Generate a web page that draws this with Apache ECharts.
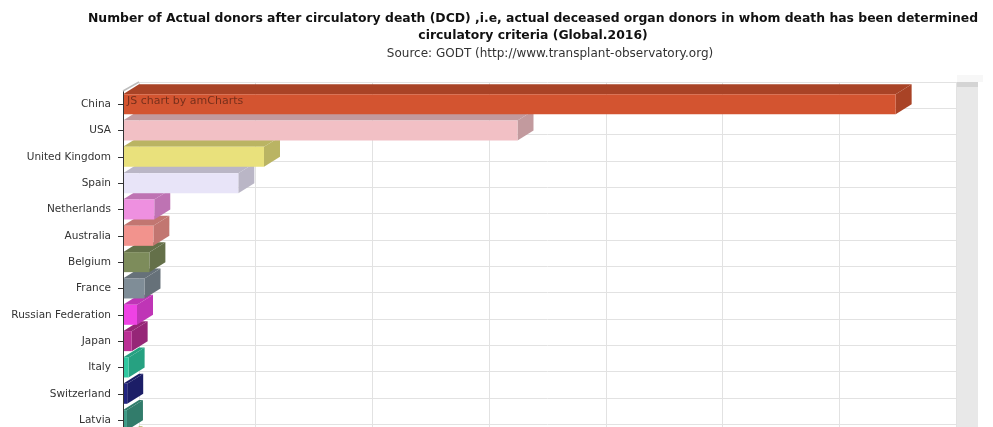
<!DOCTYPE html>
<html>
<head>
<meta charset="utf-8">
<script src="https://cdn.jsdelivr.net/npm/echarts@6/dist/echarts.min.js"></script>
<style>
html,body{margin:0;padding:0;background:#fff;overflow:hidden;width:993px;height:427px;}
#chart{width:993px;height:480px;}
</style>
</head>
<body>
<div id="chart"></div>
<script>
const categories = ["China","USA","United Kingdom","Spain","Netherlands","Australia","Belgium","France","Russian Federation","Japan","Italy","Switzerland","Latvia","Czech Republic"];
const values = [3310, 1690, 604, 494, 134, 130, 113, 92, 60, 37, 24, 18, 17, 15];
const barColors = ["#d35430","#f2c0c5","#e9e17c","#e8e4f8","#ee90e0","#f2938d","#7d8c5b","#7f8d97","#ef42e4","#bb2f95","#30c9a1","#232581","#3e9b86","#b5b51f"];
const xTicks = [0, 3500, 500];
const titleLines = ["Number of Actual donors after circulatory death (DCD) ,i.e, actual deceased organ donors in whom death has been determined", "circulatory criteria (Global.2016)"];
const subtitle = "Source: GODT (http://www.transplant-observatory.org)";

const DX = 16, DY = -10;
const PITCH = 26.33;
const N = categories.length;

function shade(hex, f){
  const n = parseInt(hex.slice(1),16);
  const r = Math.round(((n>>16)&255)*f), g = Math.round(((n>>8)&255)*f), b = Math.round((n&255)*f);
  return 'rgb('+r+','+g+','+b+')';
}

const chart = echarts.init(document.getElementById('chart'), null, {renderer:'canvas'});
const gridH = N * PITCH;
const option = {
  animation:false,
  backgroundColor:'#fff',
  grid:[
    {left:123, top:91, width:817, height:gridH, containLabel:false},
    {left:123+DX, top:91+DY+1, width:817, height:gridH, containLabel:false}
  ],
  xAxis:[
    {gridIndex:0, type:'value', min:xTicks[0], max:xTicks[1], interval:xTicks[2],
     axisLine:{show:false}, axisTick:{show:false}, axisLabel:{show:false}, splitLine:{show:false}},
    {gridIndex:1, type:'value', min:xTicks[0], max:xTicks[1], interval:xTicks[2],
     axisLine:{show:false}, axisTick:{show:false}, axisLabel:{show:false},
     splitLine:{show:true, lineStyle:{color:'#e2e2e2', width:1}}}
  ],
  yAxis:[
    {gridIndex:0, type:'category', data:categories, inverse:true,
     axisLine:{show:true, lineStyle:{color:'#333', width:1}},
     axisTick:{show:true, alignWithLabel:true, length:5, lineStyle:{color:'#333'}},
     axisLabel:{show:true, color:'#333', fontSize:10.5, fontFamily:'"DejaVu Sans", Verdana, sans-serif', margin:12},
     splitLine:{show:false}, z:5},
    {gridIndex:1, type:'category', data:categories, inverse:true,
     axisLine:{show:false}, axisTick:{show:false}, axisLabel:{show:false},
     splitLine:{show:true, lineStyle:{color:'#e2e2e2', width:1}}}
  ],
  series:[{
    type:'custom',
    xAxisIndex:0, yAxisIndex:0,
    data: values.map((v,i)=>[v, i]),
    encode:{x:0, y:1},
    renderItem:function(params, api){
      const i = params.dataIndex;
      const val = api.value(0);
      const cat = api.value(1);
      const p0 = api.coord([0, cat]);
      const p1 = api.coord([val, cat]);
      const band = api.size([0,1])[1];
      const h = band * 0.76;
      const x0 = p0[0], x1 = p1[0];
      const y0 = p0[1] - h/2, y1 = p0[1] + h/2;
      const c = barColors[i];
      const d = shade(c, 0.8);
      const zb = (N - i) * 3;
      return {type:'group', children:[
        {type:'polygon', z2:zb, shape:{points:[[x0,y0],[x0+DX,y0+DY],[x1+DX,y0+DY],[x1,y0]]}, style:{fill:d}},
        {type:'polygon', z2:zb, shape:{points:[[x1,y0],[x1+DX,y0+DY],[x1+DX,y1+DY],[x1,y1]]}, style:{fill:d}},
        {type:'rect', z2:zb+1, shape:{x:x0, y:y0, width:x1-x0, height:h}, style:{fill:c}}
      ]};
    },
    z:3
  }],
  graphic:[
    {type:'text', x:533, y:19, z:100, style:{text:titleLines[0], font:'bold 12.4px "DejaVu Sans", Verdana, sans-serif', fill:'#111', align:'center', verticalAlign:'middle', textAlign:'center', textVerticalAlign:'middle'}},
    {type:'text', x:533, y:36, z:100, style:{text:titleLines[1], font:'bold 12.4px "DejaVu Sans", Verdana, sans-serif', fill:'#111', align:'center', verticalAlign:'middle', textAlign:'center', textVerticalAlign:'middle'}},
    {type:'text', x:550, y:54, z:100, style:{text:subtitle, font:'12px "DejaVu Sans", Verdana, sans-serif', fill:'#333', align:'center', verticalAlign:'middle', textAlign:'center', textVerticalAlign:'middle'}},
    {type:'line', z:50, shape:{x1:123, y1:91, x2:123+DX, y2:91+DY+1}, style:{stroke:'#bdbdbd', lineWidth:1.5}},
    {type:'rect', z:50, shape:{x:957, y:75, width:26, height:7}, style:{fill:'#f7f7f7'}},
    {type:'rect', z:50, shape:{x:957, y:82, width:21, height:400}, style:{fill:'#e8e8e8'}},
    {type:'rect', z:51, shape:{x:957, y:82, width:21, height:5}, style:{fill:'#d4d4d4'}},
    {type:'text', x:127, y:101, z:100, style:{text:'JS chart by amCharts', font:'11px "DejaVu Sans", Verdana, sans-serif', fill:'rgba(0,0,0,0.45)', align:'left', verticalAlign:'middle', textAlign:'left', textVerticalAlign:'middle'}}
  ]
};
chart.setOption(option);
</script>
</body>
</html>
